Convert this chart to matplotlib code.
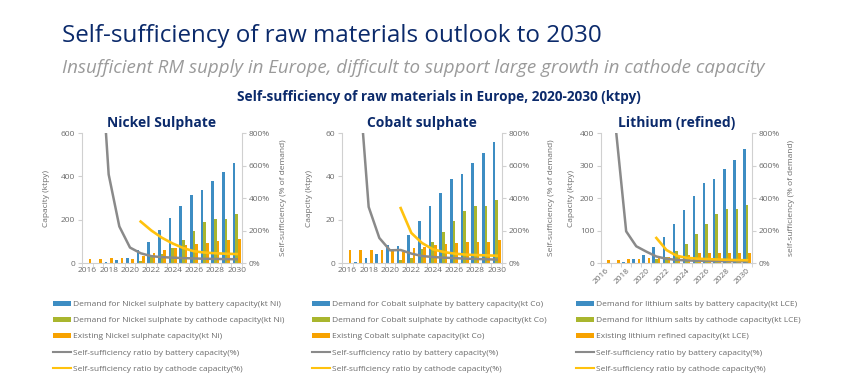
import matplotlib
matplotlib.use('Agg')
import matplotlib.pyplot as plt
import numpy as np
from matplotlib.patches import Patch
from matplotlib.lines import Line2D

years = list(range(2016, 2031))
nan = np.nan

# Nickel sulphate (kt Ni) and self-sufficiency ratios (%)
ni_battery = [0, 0, 5, 12, 22, 60, 97, 152, 206, 262, 315, 335, 378, 418, 460]
ni_cathode = [0, 0, 0, 0, 0, 9, 32, 43, 70, 106, 148, 190, 205, 205, 225]
ni_existing = [20, 20, 25, 25, 20, 32, 48, 60, 71, 82, 86, 93, 100, 105, 110]
ni_ratio_battery = [nan, 1550, 545, 225, 95, 60, 42, 36, 33, 30, 28, 26, 25, 24, 23]
ni_ratio_cathode = [nan, nan, nan, nan, nan, 255, 200, 155, 120, 92, 72, 64, 60, 57, 55]

# Cobalt sulphate (kt Co)
co_battery = [0, 0.4, 2.1, 4.0, 8.4, 8.0, 12.8, 19.2, 26.2, 32.5, 38.8, 41.1, 46.2, 51.0, 56.0]
co_cathode = [0, 0, 0, 0, 0, 1.5, 2.5, 6.3, 9.5, 14.5, 19.2, 24.0, 26.2, 26.2, 29.0]
co_existing = [5.8, 5.8, 5.8, 5.8, 5.5, 5.0, 6.7, 7.6, 8.5, 8.8, 9.2, 9.5, 9.9, 9.9, 10.4]
co_ratio_battery = [nan, 1200, 345, 154, 78, 80, 58, 43, 37, 33, 30, 27, 25, 23, 21]
co_ratio_cathode = [nan, nan, nan, nan, nan, 338, 185, 123, 85, 68, 58, 52, 49, 47, 45]

# Lithium refined (kt LCE)
li_battery = [0, 0, 4, 12, 25, 50, 80, 120, 163, 205, 245, 260, 290, 318, 352]
li_cathode = [0, 0, 0, 0, 0, 12, 20, 38, 58, 90, 120, 150, 165, 165, 180]
li_existing = [10, 10, 11, 12, 16, 14, 17, 20, 25, 30, 30, 30, 30, 30, 30]
li_ratio_battery = [nan, 810, 195, 103, 70, 40, 26, 19, 16, 14, 13, 12, 11, 11, 10]
li_ratio_cathode = [nan, nan, nan, nan, nan, 154, 80, 45, 32, 27, 24, 22, 20, 18, 17]

xlabels = [str(y) if y % 2 == 0 else '' for y in years]

ni_labels = ['Demand for Nickel sulphate by battery capacity(kt Ni)',
             'Demand for Nickel sulphate by cathode capacity(kt Ni)',
             'Existing Nickel sulphate capacity(kt Ni)',
             'Self-sufficiency ratio by battery capacity(%)',
             'Self-sufficiency ratio by cathode capacity(%)']
co_labels = ['Demand for Cobalt sulphate by battery capacity(kt Co)',
             'Demand for Cobalt sulphate by cathode capacity(kt Co)',
             'Existing Cobalt sulphate capacity(kt Co)',
             'Self-sufficiency ratio by battery capacity(%)',
             'Self-sufficiency ratio by cathode capacity(%)']
li_labels = ['Demand for lithium salts by battery capacity(kt LCE)',
             'Demand for lithium salts by cathode capacity(kt LCE)',
             'Existing lithium refined capacity(kt LCE)',
             'Self-sufficiency ratio by battery capacity(%)',
             'Self-sufficiency ratio by cathode capacity(%)']

plt.rcParams['font.family'] = ['Open Sans', 'DejaVu Sans']

W, H = 846, 390
fig = plt.figure(figsize=(W / 100, H / 100), dpi=100)
fig.patch.set_facecolor('white')

NAVY = '#0b2a6b'
BLUE = '#3d8dc3'
GREEN = '#a9b62e'
ORANGE = '#f7a200'
GRAYL = '#8a8a8a'
YELLOW = '#ffc20e'
TXT = '#6b6b6b'
SPINE = '#d0d0d0'


def fx(px):
    return px / W


def fy(py):
    return 1 - py / H


fig.text(fx(62), fy(42), 'Self-sufficiency of raw materials outlook to 2030',
         fontsize=17.4, color=NAVY, ha='left', va='baseline')
fig.text(fx(62), fy(73), 'Insufficient RM supply in Europe, difficult to support large growth in cathode capacity',
         fontsize=13.5, color='#9a9a9a', style='italic', ha='left', va='baseline')
fig.text(fx(439), fy(101), 'Self-sufficiency of raw materials in Europe, 2020-2030 (ktpy)',
         fontsize=9.8, color=NAVY, fontweight='bold', ha='center', va='baseline')

TOP, BOT = 133, 263


def panel(left, right, title, battery, cathode, existing, rb, rc, ymax, yticks,
          ylabel, y2label, ylx, y2lx, labels, rotate, leg_x):
    ax = fig.add_axes([fx(left), fy(BOT), fx(right - left), (BOT - TOP) / H])
    x = np.arange(len(years))
    w = 0.26
    ax.bar(x - w, battery, w, color=BLUE)
    ax.bar(x, cathode, w, color=GREEN)
    ax.bar(x + w, existing, w, color=ORANGE)
    ax.set_xlim(-0.5, len(years) - 0.5)
    ax.set_ylim(0, ymax)
    ax.set_yticks(yticks)
    ax.set_yticklabels([str(v) for v in yticks])
    ax.set_xticks(x)
    if rotate:
        ax.set_xticklabels(xlabels, rotation=45, ha='right', rotation_mode='anchor')
    else:
        ax.set_xticklabels(xlabels)
    ax.set_xticks(np.arange(-0.5, len(years), 1), minor=True)
    ax.tick_params(axis='x', which='major', length=0, labelsize=6, colors=TXT, pad=3)
    ax.tick_params(axis='x', which='minor', length=3, color=SPINE)
    ax.tick_params(axis='y', length=3, color=SPINE, labelsize=6, labelcolor=TXT, pad=2)
    for s in ['top', 'right']:
        ax.spines[s].set_visible(False)
    for s in ['left', 'bottom']:
        ax.spines[s].set_color(SPINE)
        ax.spines[s].set_linewidth(0.8)
    ax.set_ylabel(ylabel, fontsize=6, color=TXT)
    ax.yaxis.set_label_coords(ylx, 0.5)

    ax2 = ax.twinx()
    ax2.plot(x, rb, color=GRAYL, lw=1.8)
    ax2.plot(x, rc, color=YELLOW, lw=1.9)
    ax2.set_ylim(0, 800)
    ax2.set_yticks([0, 200, 400, 600, 800])
    ax2.set_yticklabels(['0%', '200%', '400%', '600%', '800%'])
    ax2.tick_params(axis='y', length=3, color=SPINE, labelsize=6, labelcolor=TXT, pad=2)
    for s in ['top', 'left', 'bottom']:
        ax2.spines[s].set_visible(False)
    ax2.spines['right'].set_color(SPINE)
    ax2.spines['right'].set_linewidth(0.8)
    ax2.set_ylabel(y2label, fontsize=6, color=TXT)
    ax2.yaxis.set_label_coords(y2lx, 0.5)

    fig.text(fx((left + right) / 2), fy(127), title, fontsize=10, fontweight='bold',
             color=NAVY, ha='center', va='baseline')

    handles = [Patch(facecolor=BLUE), Patch(facecolor=GREEN), Patch(facecolor=ORANGE),
               Line2D([], [], color=GRAYL, lw=1.5), Line2D([], [], color=YELLOW, lw=1.5)]
    leg = ax.legend(handles, labels, loc='upper left', bbox_to_anchor=(fx(leg_x), fy(301)),
                    bbox_transform=fig.transFigure, frameon=False, fontsize=6,
                    handlelength=2.2, handleheight=0.5, handletextpad=0.2,
                    labelspacing=1.05, borderpad=0, borderaxespad=0)
    for t in leg.get_texts():
        t.set_color(TXT)
    return ax


panel(82, 242, 'Nickel Sulphate', ni_battery, ni_cathode, ni_existing,
      ni_ratio_battery, ni_ratio_cathode, 600, [0, 200, 400, 600],
      'Capacity (ktpy)', 'Self-sufficiency (% of demand)', -0.2, 1.24, ni_labels, False, 53)
panel(342, 502, 'Cobalt sulphate', co_battery, co_cathode, co_existing,
      co_ratio_battery, co_ratio_cathode, 60, [0, 20, 40, 60],
      'Caapcity (ktpy)', 'Self-sufficiency (% of demand)', -0.18, 1.29, co_labels, False, 312)
panel(601, 752, 'Lithium (refined)', li_battery, li_cathode, li_existing,
      li_ratio_battery, li_ratio_cathode, 400, [0, 100, 200, 300, 400],
      'Capacity (ktpy)', 'self-sufficiency (% of demand)', -0.17, 1.24, li_labels, True, 576)

fig.savefig('out.png', dpi=100, facecolor='white')
